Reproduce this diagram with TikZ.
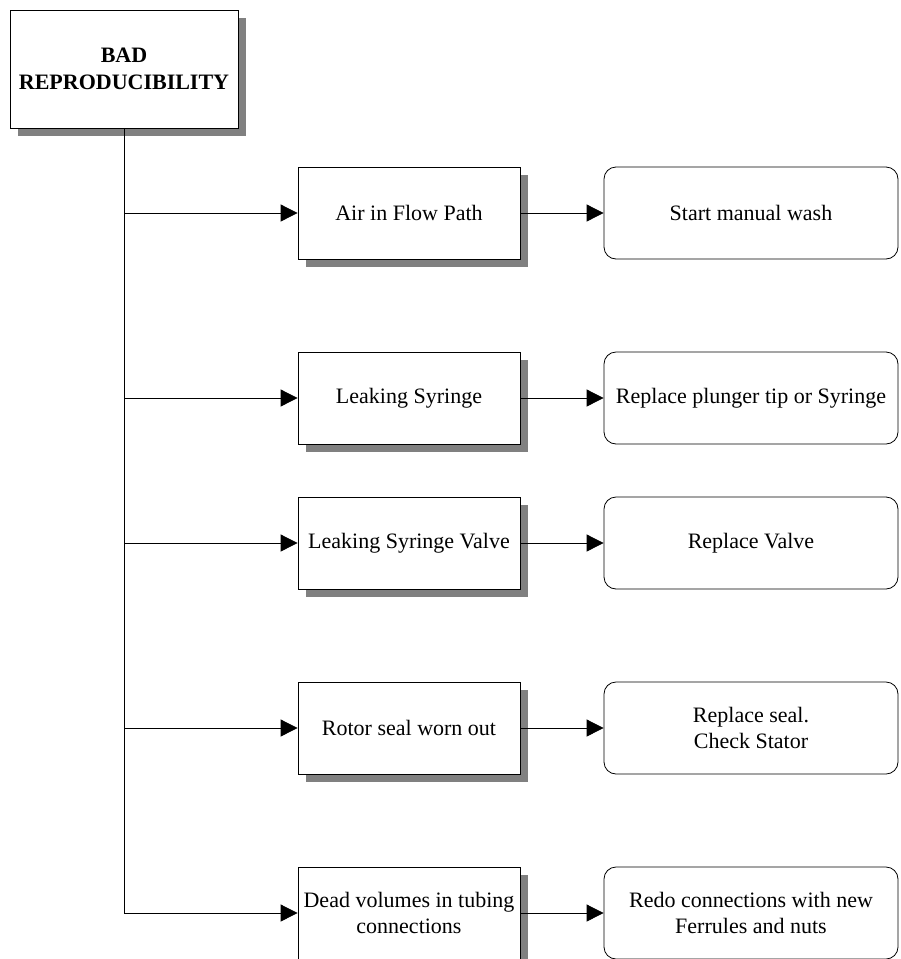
\documentclass[tikz,border=0pt]{standalone}
\usepackage{fontspec}
\setmainfont{Liberation Serif}
\usetikzlibrary{arrows.meta,shadows}
\definecolor{shadowgray}{RGB}{128,128,128}
\begin{document}
\begin{tikzpicture}[x=1pt,y=-1pt,
  every node/.style={font=\fontsize{22}{26.5}\selectfont, align=center, inner sep=0pt},
  shadowbox/.style={draw=black, line width=0.8pt, fill=white,
    drop shadow={shadow xshift=8pt, shadow yshift=-8pt, fill=shadowgray, opacity=1}},
  titlebox/.style={shadowbox, minimum width=228pt, minimum height=118pt, font=\fontsize{22}{26.5}\selectfont\bfseries},
  causebox/.style={shadowbox, minimum width=222pt, minimum height=92pt},
  fixbox/.style={draw=black, line width=0.8pt, fill=white, rounded corners=12pt, minimum width=294pt, minimum height=92pt},
  link/.style={line width=0.8pt, draw=black},
  arrowlink/.style={link, -{Triangle[length=17pt,width=17pt]}}
]
\useasboundingbox (0,0) rectangle (901,959);
\fill[white] (0,0) rectangle (901,959);

\node[titlebox] (t) at (124,69) {BAD\\REPRODUCIBILITY};

\node[causebox] (c1) at (409,213) {Air in Flow Path};
\node[causebox] (c2) at (409,398) {Leaking Syringe};
\node[causebox] (c3) at (409,543) {Leaking Syringe Valve};
\node[causebox] (c4) at (409,728) {Rotor seal worn out};
\node[causebox] (c5) at (409,913) {Dead volumes in tubing\\connections};

\node[fixbox] (r1) at (751,213) {Start manual wash};
\node[fixbox] (r2) at (751,398) {Replace plunger tip or Syringe};
\node[fixbox] (r3) at (751,543) {Replace Valve};
\node[fixbox] (r4) at (751,728) {Replace seal.\\Check Stator};
\node[fixbox] (r5) at (751,913) {Redo connections with new\\Ferrules and nuts};

\coordinate (j1) at (124,213);
\coordinate (j2) at (124,398);
\coordinate (j3) at (124,543);
\coordinate (j4) at (124,728);
\coordinate (j5) at (124,913);

\draw[link] (t.south) -- (j5);
\draw[arrowlink] (j1) -- (c1.west);
\draw[arrowlink] (j2) -- (c2.west);
\draw[arrowlink] (j3) -- (c3.west);
\draw[arrowlink] (j4) -- (c4.west);
\draw[arrowlink] (j5) -- (c5.west);

\draw[arrowlink] (c1.east) -- (r1.west);
\draw[arrowlink] (c2.east) -- (r2.west);
\draw[arrowlink] (c3.east) -- (r3.west);
\draw[arrowlink] (c4.east) -- (r4.west);
\draw[arrowlink] (c5.east) -- (r5.west);
\end{tikzpicture}
\end{document}
